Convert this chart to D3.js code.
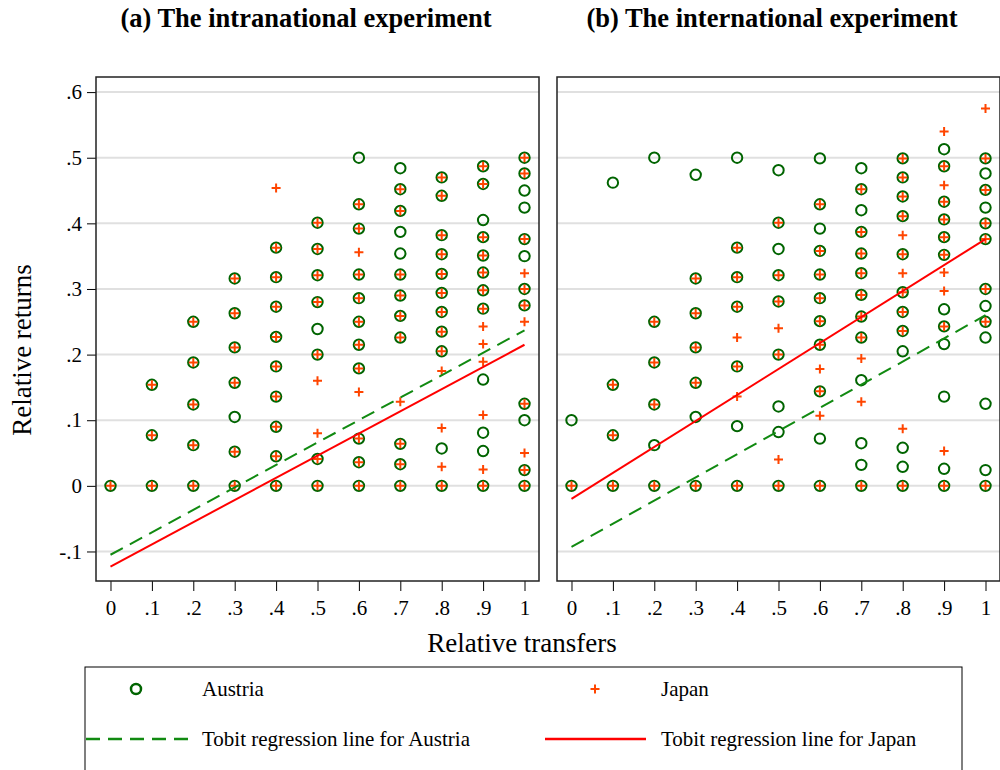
<!DOCTYPE html>
<html>
<head>
<meta charset="utf-8">
<script src="https://cdn.jsdelivr.net/npm/d3@7"></script>
<style>
  body { margin: 0; background: #fff; }
  svg { display: block; font-family: "Liberation Serif", "Times New Roman", serif; }
</style>
</head>
<body>
<svg id="chart" width="1000" height="770"></svg>
<script>
// x positions (relative transfers) shared by every column of points
const transfers = [0, 0.1, 0.2, 0.3, 0.4, 0.5, 0.6, 0.7, 0.8, 0.9, 1];

// (a) intranational: relative returns per transfer column
const intraAustria = [
  [0],
  [0.154, 0.077, 0],
  [0.25, 0.188, 0.124, 0.062, 0],
  [0.316, 0.263, 0.211, 0.157, 0.105, 0.052, 0],
  [0.363, 0.318, 0.273, 0.227, 0.182, 0.136, 0.090, 0.045, 0],
  [0.401, 0.361, 0.321, 0.280, 0.239, 0.200, 0.041, 0],
  [0.500, 0.429, 0.392, 0.322, 0.286, 0.250, 0.215, 0.179, 0.072, 0.036, 0],
  [0.484, 0.452, 0.419, 0.387, 0.354, 0.322, 0.290, 0.259, 0.226, 0.064, 0.033, 0],
  [0.470, 0.442, 0.382, 0.353, 0.323, 0.294, 0.265, 0.235, 0.205, 0.057, 0],
  [0.487, 0.460, 0.405, 0.379, 0.351, 0.325, 0.298, 0.270, 0.162, 0.081, 0.053, 0],
  [0.500, 0.476, 0.450, 0.424, 0.376, 0.350, 0.300, 0.275, 0.125, 0.100, 0.024, 0]
];
const intraJapan = [
  [0],
  [0.154, 0.077, 0],
  [0.25, 0.188, 0.124, 0.062, 0],
  [0.316, 0.263, 0.211, 0.157, 0.052, 0],
  [0.454, 0.363, 0.318, 0.273, 0.227, 0.182, 0.136, 0.090, 0.045, 0],
  [0.401, 0.361, 0.321, 0.280, 0.200, 0.160, 0.080, 0.041, 0],
  [0.429, 0.392, 0.356, 0.322, 0.286, 0.250, 0.215, 0.179, 0.143, 0.072, 0.036, 0],
  [0.452, 0.419, 0.322, 0.290, 0.259, 0.226, 0.128, 0.064, 0.033, 0],
  [0.470, 0.442, 0.382, 0.353, 0.323, 0.294, 0.265, 0.235, 0.205, 0.175, 0.088, 0.029, 0],
  [0.487, 0.460, 0.379, 0.351, 0.325, 0.298, 0.270, 0.243, 0.216, 0.189, 0.108, 0.025, 0],
  [0.500, 0.476, 0.376, 0.324, 0.300, 0.275, 0.250, 0.125, 0.050, 0.024, 0]
];

// (b) international
const interAustria = [
  [0.100, 0],
  [0.462, 0.154, 0.077, 0],
  [0.500, 0.250, 0.188, 0.124, 0.062, 0],
  [0.474, 0.316, 0.263, 0.211, 0.157, 0.105, 0],
  [0.500, 0.363, 0.318, 0.273, 0.182, 0.091, 0],
  [0.481, 0.401, 0.361, 0.321, 0.281, 0.200, 0.121, 0.082, 0],
  [0.499, 0.429, 0.392, 0.358, 0.322, 0.286, 0.251, 0.215, 0.144, 0.072, 0],
  [0.484, 0.452, 0.420, 0.387, 0.354, 0.324, 0.291, 0.258, 0.226, 0.161, 0.065, 0.032, 0],
  [0.499, 0.470, 0.441, 0.411, 0.353, 0.295, 0.265, 0.236, 0.205, 0.058, 0.029, 0],
  [0.513, 0.487, 0.433, 0.406, 0.379, 0.352, 0.269, 0.243, 0.216, 0.136, 0.026, 0],
  [0.499, 0.476, 0.451, 0.424, 0.400, 0.376, 0.300, 0.274, 0.250, 0.226, 0.125, 0.024, 0]
];
const interJapan = [
  [0],
  [0.154, 0.077, 0],
  [0.250, 0.188, 0.124, 0],
  [0.316, 0.263, 0.211, 0.157, 0],
  [0.363, 0.318, 0.273, 0.226, 0.182, 0.136, 0],
  [0.401, 0.321, 0.281, 0.240, 0.200, 0.040, 0],
  [0.429, 0.358, 0.322, 0.286, 0.251, 0.215, 0.178, 0.144, 0.107, 0],
  [0.452, 0.387, 0.354, 0.324, 0.291, 0.258, 0.226, 0.194, 0.128, 0],
  [0.499, 0.470, 0.441, 0.411, 0.382, 0.353, 0.324, 0.295, 0.265, 0.236, 0.087, 0],
  [0.540, 0.487, 0.458, 0.433, 0.406, 0.379, 0.352, 0.325, 0.297, 0.243, 0.053, 0],
  [0.575, 0.499, 0.451, 0.400, 0.376, 0.300, 0.250, 0]
];

// tobit fits: fitted value at transfer 0 and at transfer 1
const intraFitAustria = [-0.105, 0.237];
const intraFitJapan = [-0.123, 0.215];
const interFitAustria = [-0.093, 0.260];
const interFitJapan = [-0.020, 0.376];

const xTicks = [0, 0.1, 0.2, 0.3, 0.4, 0.5, 0.6, 0.7, 0.8, 0.9, 1];
const xTickLabels = ['0', '.1', '.2', '.3', '.4', '.5', '.6', '.7', '.8', '.9', '1'];
const yTicks = [-0.1, 0, 0.1, 0.2, 0.3, 0.4, 0.5, 0.6];
const yTickLabels = ['-.1', '0', '.1', '.2', '.3', '.4', '.5', '.6'];

const titles = ['(a) The intranational experiment', '(b) The international experiment'];

const austriaColor = '#006400';
const japanColor = '#ff4500';
const austriaLine = '#118a11';
const japanLine = '#ff0000';

const svg = d3.select('#chart');

const y = d3.scaleLinear().domain([-0.145, 0.623]).range([581, 77]);

const panels = [
  { title: titles[0], titleX: 306, range: [96, 539], austria: intraAustria, japan: intraJapan,
    fitA: intraFitAustria, fitJ: intraFitJapan, yAxis: true },
  { title: titles[1], titleX: 772, range: [557, 1000], austria: interAustria, japan: interJapan,
    fitA: interFitAustria, fitJ: interFitJapan, yAxis: false }
];

function flatten(cols) {
  const out = [];
  cols.forEach((vals, i) => vals.forEach((v) => out.push([transfers[i], v])));
  return out;
}

panels.forEach((p) => {
  const x = d3.scaleLinear().domain([-0.035, 1.035]).range(p.range);
  const g = svg.append('g');

  // title
  svg.append('text')
    .attr('x', p.titleX)
    .attr('y', 27)
    .attr('text-anchor', 'middle')
    .style('font-size', '26.5px')
    .style('font-weight', 'bold')
    .text(p.title);

  // gridlines
  g.selectAll('line.grid')
    .data(yTicks)
    .join('line')
    .attr('class', 'grid')
    .attr('x1', p.range[0]).attr('x2', p.range[1])
    .attr('y1', (d) => y(d)).attr('y2', (d) => y(d))
    .attr('stroke', '#e0e0e0')
    .attr('stroke-width', 2);

  // y axis (left panel only)
  if (p.yAxis) {
    const ya = g.append('g')
      .attr('transform', `translate(${p.range[0]},0)`)
      .call(d3.axisLeft(y).tickValues(yTicks).tickSize(9).tickPadding(5)
        .tickFormat((d, i) => yTickLabels[i]));
    ya.select('.domain').remove();
    ya.selectAll('line').attr('stroke', '#000');
    ya.selectAll('text')
      .style('font-family', '"Liberation Serif", serif')
      .style('font-size', '21px')
      .attr('fill', '#000');
  }

  // x axis
  const xa = g.append('g')
    .attr('transform', 'translate(0,581)')
    .call(d3.axisBottom(x).tickValues(xTicks).tickSize(10).tickPadding(9)
      .tickFormat((d, i) => xTickLabels[i]));
  xa.select('.domain').remove();
  xa.selectAll('line').attr('stroke', '#000');
  xa.selectAll('text')
    .style('font-family', '"Liberation Serif", serif')
    .style('font-size', '21px')
    .attr('fill', '#000');

  // austria circles
  g.selectAll('circle.aut')
    .data(flatten(p.austria))
    .join('circle')
    .attr('class', 'aut')
    .attr('cx', (d) => x(d[0]))
    .attr('cy', (d) => y(d[1]))
    .attr('r', 5.2)
    .attr('fill', 'none')
    .attr('stroke', austriaColor)
    .attr('stroke-width', 2);

  // japan pluses
  g.selectAll('path.jpn')
    .data(flatten(p.japan))
    .join('path')
    .attr('class', 'jpn')
    .attr('d', (d) => {
      const cx = x(d[0]), cy = y(d[1]);
      return `M${cx - 4.5},${cy}H${cx + 4.5}M${cx},${cy - 4.5}V${cy + 4.5}`;
    })
    .attr('stroke', japanColor)
    .attr('stroke-width', 2);

  // regression lines
  g.append('line')
    .attr('x1', x(0)).attr('y1', y(p.fitA[0]))
    .attr('x2', x(1)).attr('y2', y(p.fitA[1]))
    .attr('stroke', austriaLine)
    .attr('stroke-width', 2)
    .attr('stroke-dasharray', '14,8');
  g.append('line')
    .attr('x1', x(0)).attr('y1', y(p.fitJ[0]))
    .attr('x2', x(1)).attr('y2', y(p.fitJ[1]))
    .attr('stroke', japanLine)
    .attr('stroke-width', 2);

  // frame
  g.append('rect')
    .attr('x', p.range[0]).attr('y', 77)
    .attr('width', p.range[1] - p.range[0])
    .attr('height', 581 - 77)
    .attr('fill', 'none')
    .attr('stroke', '#222')
    .attr('stroke-width', 1.5);
});

// axis titles
svg.append('text')
  .attr('x', 522).attr('y', 652)
  .attr('text-anchor', 'middle')
  .style('font-size', '27px')
  .text('Relative transfers');

svg.append('text')
  .attr('transform', 'translate(31,350) rotate(-90)')
  .attr('text-anchor', 'middle')
  .style('font-size', '27px')
  .text('Relative returns');

// legend
const legend = svg.append('g');
legend.append('rect')
  .attr('x', 85).attr('y', 667)
  .attr('width', 877).attr('height', 130)
  .attr('fill', 'none')
  .attr('stroke', '#000')
  .attr('stroke-width', 1);

legend.append('circle')
  .attr('cx', 136).attr('cy', 689).attr('r', 5)
  .attr('fill', 'none').attr('stroke', austriaColor).attr('stroke-width', 2.5);
legend.append('path')
  .attr('d', 'M590.5,689H599.5M595,684.5V693.5')
  .attr('stroke', japanColor).attr('stroke-width', 2);
legend.append('line')
  .attr('x1', 86).attr('x2', 188).attr('y1', 739).attr('y2', 739)
  .attr('stroke', austriaLine).attr('stroke-width', 2.5)
  .attr('stroke-dasharray', '14,8');
legend.append('line')
  .attr('x1', 545).attr('x2', 646).attr('y1', 739).attr('y2', 739)
  .attr('stroke', japanLine).attr('stroke-width', 2.5);

const legendText = [
  ['Austria', 202, 689],
  ['Japan', 661, 689],
  ['Tobit regression line for Austria', 202, 739],
  ['Tobit regression line for Japan', 661, 739]
];
legend.selectAll('text')
  .data(legendText)
  .join('text')
  .attr('x', (d) => d[1])
  .attr('y', (d) => d[2] + 7)
  .style('font-size', '21px')
  .text((d) => d[0]);
</script>
</body>
</html>
